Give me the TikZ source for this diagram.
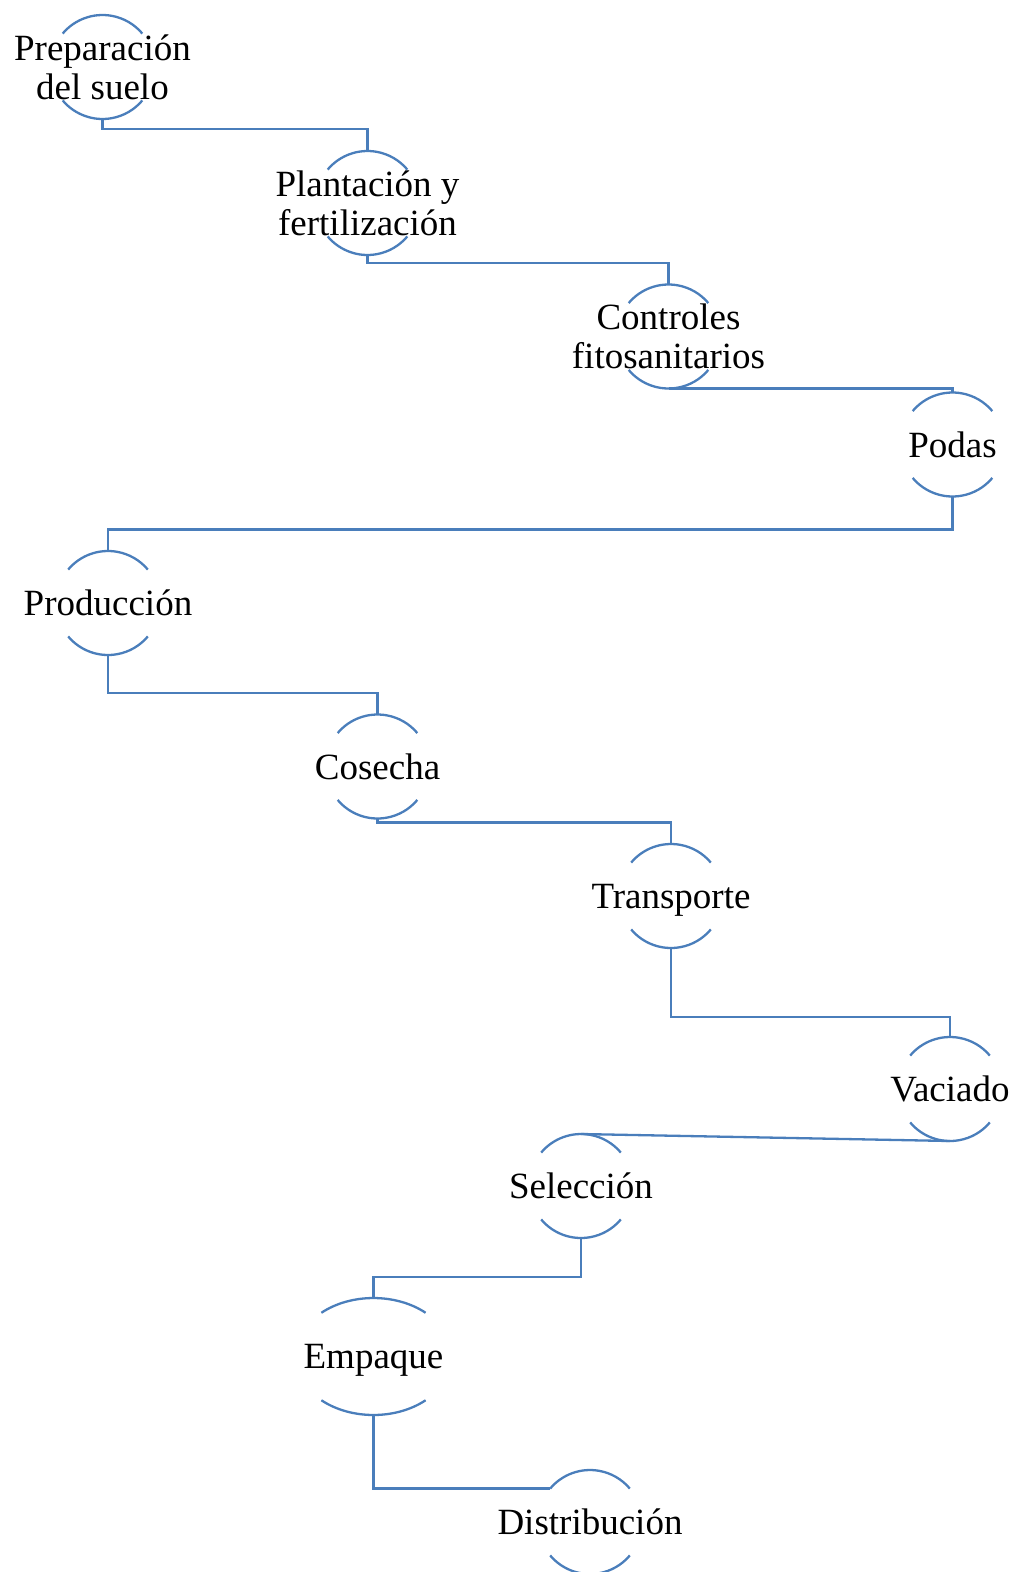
\documentclass[tikz,border=0pt]{standalone}
\usepackage{fontspec}
\setmainfont{Liberation Serif}
\usetikzlibrary{shapes.geometric}
\definecolor{linkblue}{RGB}{74,126,187}
\tikzset{
  stage/.style={circle, minimum size=104pt, inner sep=0pt, outer sep=0pt},
  widestage/.style={ellipse, minimum width=157pt, minimum height=117pt, inner sep=0pt, outer sep=0pt},
  txt/.style={align=center, inner sep=0pt, text depth=0pt, font=\fontsize{37}{39}\selectfont, text=black},
  rim/.style={draw=linkblue, line width=2.3pt},
  link/.style={draw=linkblue, line width=2.3pt},
}
\newcommand\ringcaps[1]{%
  \draw[rim] (#1.140) arc[start angle=140, end angle=40, radius=52pt];
  \draw[rim] (#1.220) arc[start angle=220, end angle=320, radius=52pt];}
\begin{document}
\begin{tikzpicture}[x=1pt, y=1pt]
\useasboundingbox (0,0) rectangle (1015,-1572);

\node[stage, label={[txt]center:{Preparación\\del suelo}}] (prep) at (102.5,-67) {};
\node[stage, label={[txt]center:{Plantación y\\fertilización}}] (plant) at (367.5,-203) {};
\node[stage, label={[txt]center:{Controles\\fitosanitarios}}] (contr) at (668.5,-336.5) {};
\node[stage, label={[txt]center:{Podas}}] (podas) at (952.5,-444.5) {};
\node[stage, label={[txt]center:{Producción}}] (prod) at (108,-603) {};
\node[stage, label={[txt]center:{Cosecha}}] (cos) at (377.5,-766.5) {};
\node[stage, label={[txt]center:{Transporte}}] (trans) at (671,-896) {};
\node[stage, label={[txt]center:{Vaciado}}] (vac) at (950,-1089) {};
\node[stage, label={[txt]center:{Selección}}] (sel) at (581,-1186) {};
\node[widestage, label={[txt]center:{Empaque}}] (emp) at (373.5,-1356.5) {};
\node[stage, label={[txt]center:{Distribución}}] (dist) at (590,-1522) {};

\foreach \n in {prep,plant,contr,podas,prod,cos,trans,vac,sel,dist} {\ringcaps{\n}}
\draw[rim] (emp.140) arc[start angle=131.6, end angle=48.4, x radius=78.5pt, y radius=58.5pt];
\draw[rim] (emp.220) arc[start angle=228.4, end angle=311.6, x radius=78.5pt, y radius=58.5pt];

\draw[link] (prep.south) -- ++(0,-10) -| (plant.north);
\draw[link] (plant.south) -- ++(0,-8) -| (contr.north);
\draw[link] (contr.south) -| (podas.north);
\draw[link] (podas.south) -- ++(0,-33) -| (prod.north);
\draw[link] (prod.south) -- ++(0,-38) -| (cos.north);
\draw[link] (cos.south) -- ++(0,-4) -| (trans.north);
\draw[link] (trans.south) -- ++(0,-69) -| (vac.north);
\draw[link] (vac.south) -- (sel.north);
\draw[link] (sel.south) -- ++(0,-39) -| (emp.north);
\draw[link] (emp.south) |- (dist.140);
\end{tikzpicture}
\end{document}
